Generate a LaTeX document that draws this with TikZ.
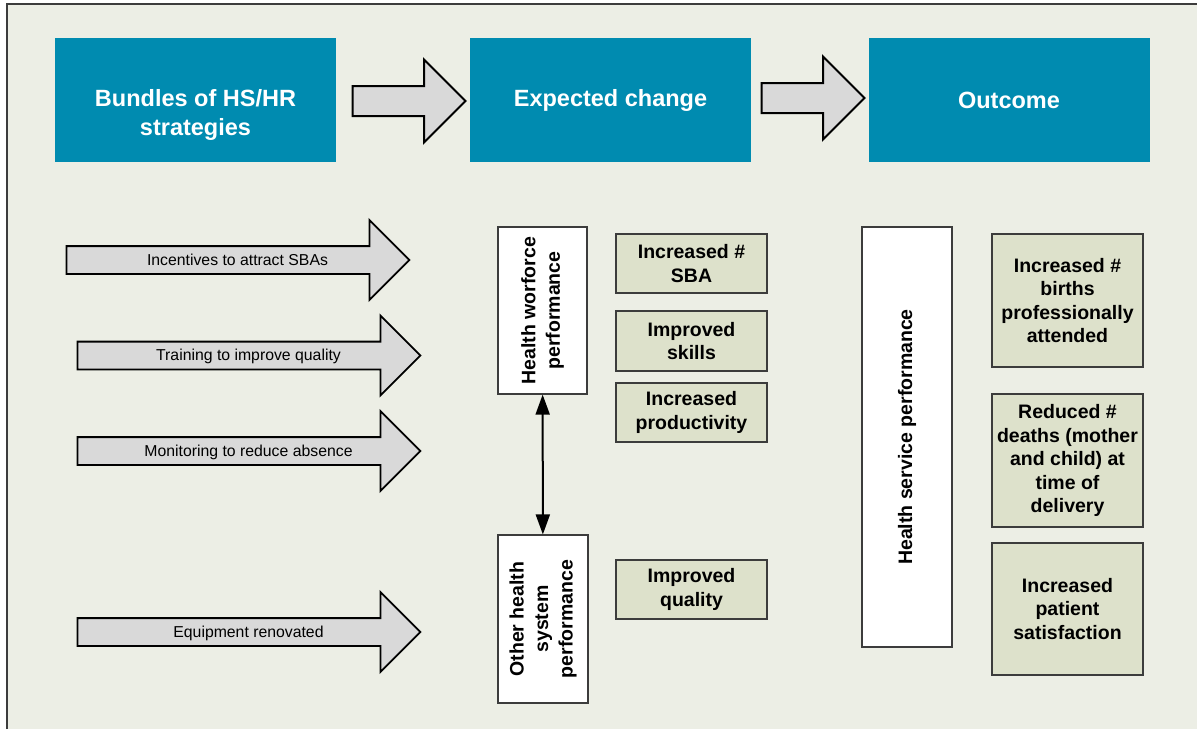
\documentclass[tikz,border=0pt]{standalone}
\usepackage{fontspec}
\setmainfont{Liberation Sans}
\usepackage{tikz}
\usetikzlibrary{shapes,arrows,positioning,calc,arrows.meta}
\definecolor{panelbg}{RGB}{236,238,229}
\definecolor{headteal}{RGB}{0,139,176}
\definecolor{arrowgrey}{RGB}{217,217,217}
\definecolor{changegreen}{RGB}{221,225,203}
\definecolor{edgegrey}{RGB}{60,60,60}

\begin{document}
\begin{tikzpicture}[x=1pt, y=-1pt,
  headbox/.style={fill=headteal, text=white, font=\fontsize{23.5}{28.5}\selectfont\bfseries, align=center, minimum width=281pt, minimum height=124pt, inner sep=0pt},
  bigarrow/.style={single arrow, draw=black, fill=arrowgrey, line width=2pt, inner sep=0pt, text height=14pt, text depth=14pt, single arrow head extend=26.5pt},
  stratarrow/.style={single arrow, draw=black, fill=arrowgrey, line width=1.8pt, inner sep=0pt, text height=18pt, text depth=8pt, single arrow head extend=26pt, minimum height=343pt},
  arrowtext/.style={font=\fontsize{15.8}{19}\selectfont, inner sep=0pt, text height=18pt, text depth=8pt, xshift=6.5pt},
  perfbox/.style={draw=edgegrey, fill=white, line width=1.2pt, rotate=90, inner sep=0pt, align=center, font=\fontsize{19.5}{24.5}\selectfont\bfseries},
  changebox/.style={draw=edgegrey, fill=changegreen, line width=1.2pt, inner sep=0pt, align=center, minimum width=151pt, font=\fontsize{19.5}{23.5}\selectfont\bfseries}
]
\useasboundingbox (0,0) rectangle (1197,729);
% Panel
\fill[white] (0,0) rectangle (1197,729);
\fill[panelbg] (7,4) rectangle (1197,729);
\draw[edgegrey, line width=1.5pt] (7,729) -- (7,4) -- (1197,4);

% Header row
\node[headbox] (bundles) at (195.5,100) {};
\node[text=white, font=\fontsize{23.5}{28.5}\selectfont\bfseries, align=center] (bundlestext) at (195.5,115) {Bundles of HS/HR\\strategies};
\node[headbox] (change) at (610.5,100) {Expected change};
\node[headbox] (outcome) at (1009,100) {Outcome};
\node[bigarrow, minimum height=113pt] (arrowone) at (401.5,101) {};
\node[bigarrow, minimum height=103pt] (arrowtwo) at (805.5,98) {};

% Strategies
\node[stratarrow, label={[arrowtext]center:Incentives to attract SBAs}] (incentives) at (231,260) {};
\node[stratarrow, label={[arrowtext]center:Training to improve quality}] (training) at (242,355.5) {};
\node[stratarrow, label={[arrowtext]center:Monitoring to reduce absence}] (monitoring) at (242,451) {};
\node[stratarrow, label={[arrowtext]center:Equipment renovated}] (equipment) at (242,632) {};

% Performance columns
\node[perfbox, minimum width=167pt, minimum height=89pt] (workforce) at (542.5,310.5) {Health worforce\\performance};
\node[perfbox, minimum width=168pt, minimum height=90pt] (othersys) at (543,619) {Other health\\system\\performance};
\node[perfbox, minimum width=420pt, minimum height=90pt] (service) at (907,437) {Health service performance};
\draw[{Triangle[width=14pt,length=20pt]}-{Triangle[width=14pt,length=20pt]}, line width=2pt] (workforce) -- (othersys);

% Expected changes
\node[changebox, minimum height=59pt] (moresba) at (691.5,263.5) {Increased \#\\SBA};
\node[changebox, minimum height=60pt] (skills) at (691.5,341) {Improved\\skills};
\node[changebox, minimum height=59pt] (productivity) at (691.5,412.5) {Increased\\productivity};
\node[changebox, minimum height=59pt] (quality) at (691.5,589.5) {Improved\\quality};

% Outcomes
\node[changebox, minimum height=133pt] (births) at (1067.5,300.5) {Increased \#\\births\\professionally\\attended};
\node[changebox, minimum height=133pt] (deaths) at (1067.5,460.5) {Reduced \#\\deaths (mother\\and child) at\\time of\\delivery};
\node[changebox, minimum height=132pt] (satisfaction) at (1067.5,609) {Increased\\patient\\satisfaction};
\end{tikzpicture}
\end{document}
